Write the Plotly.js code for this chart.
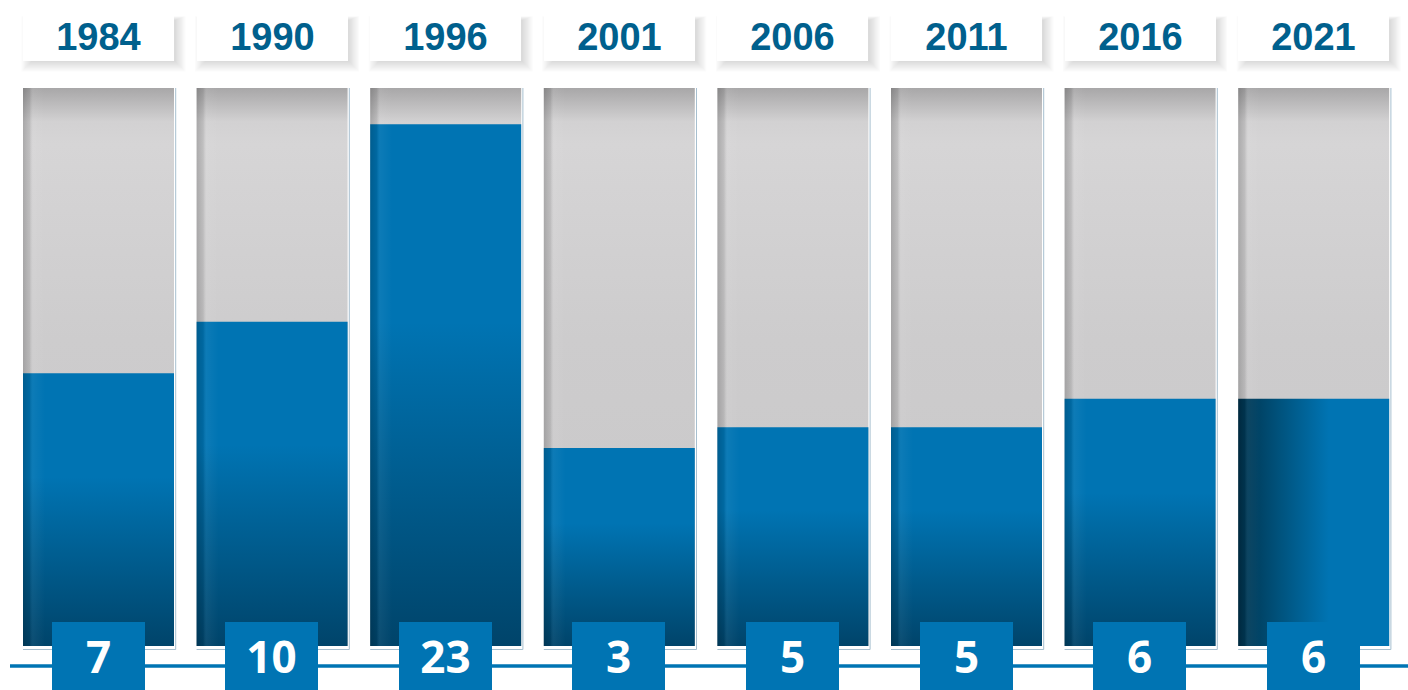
<!DOCTYPE html>
<html>
<head>
<meta charset="utf-8">
<script src="https://cdn.plot.ly/plotly-3.0.1.min.js"></script>
<style>
  html, body { margin: 0; padding: 0; background: #ffffff; }
  #chart { width: 1408px; height: 690px; }
</style>
</head>
<body>
<div id="chart"></div>
<script>
// ---- data ----
const years = ['1984', '1990', '1996', '2001', '2006', '2011', '2016', '2021'];
const values = [7, 10, 23, 3, 5, 5, 6, 6];
// blue fill level of each column, as percent of the full (grey) column
const fillLevels = [48.9, 58.1, 93.5, 35.5, 39.2, 39.2, 44.3, 44.3];
const fullLevel = 100;

// ---- layout geometry helpers ----
const W = 1408, H = 690;
const pxX = 173.6;            // pixels per category step
const pxY = 5.58;             // pixels per level unit
const x0 = -98.5 / pxX;       // left edge of x range
const x1 = x0 + W / pxX;
const yBottomPx = 646;        // pixel row of level 0
const y0 = -(H - yBottomPx) / pxY;
const y1 = yBottomPx / pxY;
const py = p => (yBottomPx - p) / pxY;   // pixel row -> level
const hw = 151 / 2 / pxX;     // half column width

const BLUE = '#0074b3';
const traces = [];
const shapes = [];
const annotations = [];

years.forEach((yr, i) => {
  const L = i - hw, R = i + hw;
  // grey full column
  traces.push({
    type: 'scatter', mode: 'lines', line: {width: 0},
    x: [L, R, R, L, L], y: [0, 0, fullLevel, fullLevel, 0],
    fill: 'toself', fillcolor: '#cdcccd',
    fillgradient: {
      type: 'vertical', start: 0, stop: fullLevel,
      colorscale: [[0, '#c8c7c8'], [0.55, '#cdcccd'], [0.9, '#d6d5d6'], [0.94, '#d2d1d2'], [1, '#a8a7a8']]
    },
    hoverinfo: 'skip', showlegend: false
  });
  // blue level
  const h = fillLevels[i];
  const last = i === years.length - 1;
  traces.push({
    type: 'scatter', mode: 'lines', line: {width: 0},
    x: [L, R, R, L, L], y: [0, 0, h, h, 0],
    fill: 'toself', fillcolor: BLUE,
    fillgradient: last ? {
      type: 'horizontal', start: L, stop: L + 0.6 * 2 * hw,
      colorscale: [[0, '#00344f'], [0.45, '#00527c'], [1, BLUE]]
    } : {
      type: 'vertical', start: 0, stop: 0.62 * h,
      colorscale: [[0, '#00446a'], [0.5, '#005c8e'], [1, BLUE]]
    },
    hoverinfo: 'skip', showlegend: false
  });
  // left edge shading
  const sw = 22 / pxX;
  traces.push({
    type: 'scatter', mode: 'lines', line: {width: 0},
    x: [L, L + sw, L + sw, L, L], y: [0, 0, fullLevel, fullLevel, 0],
    fill: 'toself', fillcolor: 'rgba(0,0,0,0.05)',
    fillgradient: {
      type: 'horizontal', start: L, stop: L + sw,
      colorscale: [[0, 'rgba(0,0,0,0.2)'], [0.3, 'rgba(0,0,0,0.1)'], [0.45, 'rgba(255,255,255,0.05)'], [1, 'rgba(255,255,255,0)']]
    },
    hoverinfo: 'skip', showlegend: false
  });
  // frame line right/bottom
  const fb = py(649.5), fr = R + 1.7 / pxX;
  shapes.push({
    type: 'path', xref: 'x', yref: 'y', layer: 'below',
    path: `M ${L} ${fb} L ${fr} ${fb} L ${fr} ${fullLevel}`,
    line: {color: '#a7bfcf', width: 1}
  });
  // soft year box shadow
  for (let k = 0; k < 9; k++) {
    const g = k * 1.2;
    shapes.push({
      type: 'rect', xref: 'x', yref: 'y', layer: 'above',
      x0: L + (8 - g) / pxX, x1: R + (2 + g) / pxX,
      y0: py(62 + g), y1: py(20 - g * 0.4),
      fillcolor: 'rgba(0,0,0,0.016)', line: {width: 0}
    });
  }
  // year box
  annotations.push({
    x: i, y: py(36.5), xref: 'x', yref: 'y',
    xanchor: 'center', yanchor: 'middle',
    text: yr, showarrow: false,
    width: 151, height: 49, bgcolor: '#ffffff', borderpad: 0, borderwidth: 0,
    font: {family: 'Liberation Sans, Arial, sans-serif', size: 38, color: '#00608d', weight: 700}
  });
  // value box
  annotations.push({
    x: i - 0.5 / pxX, y: py(656), xref: 'x', yref: 'y',
    xanchor: 'center', yanchor: 'middle',
    text: String(values[i]), showarrow: false,
    width: 93, height: 68, bgcolor: BLUE, borderpad: 0, borderwidth: 0,
    font: {family: 'Open Sans, sans-serif', size: 44, color: '#ffffff', weight: 700}
  });
});

// baseline rule
shapes.push({
  type: 'line', xref: 'x', yref: 'y', layer: 'above',
  x0: x0 + 10 / pxX, x1: x1 + 1, y0: py(666), y1: py(666),
  line: {color: BLUE, width: 3.5}
});

const layout = {
  width: W, height: H,
  margin: {l: 0, r: 0, t: 0, b: 0, pad: 0},
  paper_bgcolor: '#ffffff', plot_bgcolor: '#ffffff',
  showlegend: false,
  xaxis: {range: [x0, x1], visible: false, fixedrange: true},
  yaxis: {range: [y0, y1], visible: false, fixedrange: true},
  shapes: shapes,
  annotations: annotations
};

Plotly.newPlot('chart', traces, layout, {displayModeBar: false, staticPlot: true});
</script>
</body>
</html>
